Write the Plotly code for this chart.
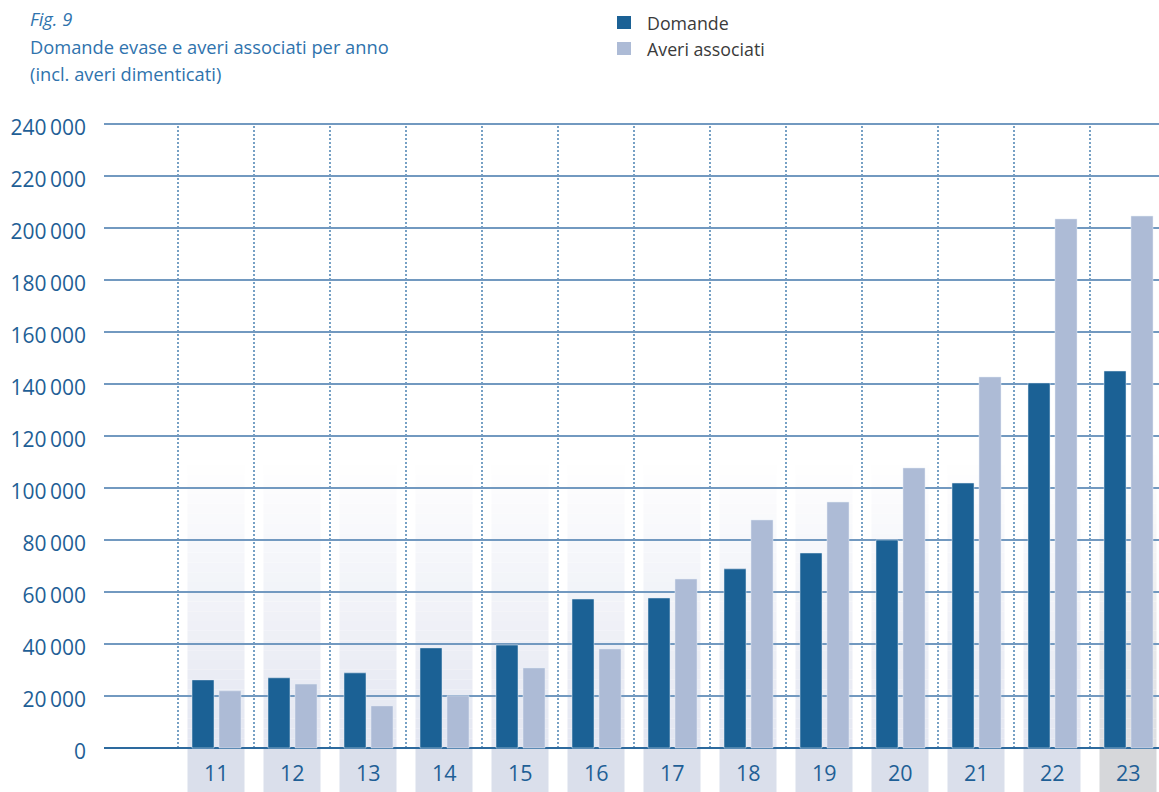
import plotly.graph_objects as go

# ---------------- data ----------------
years = ["11", "12", "13", "14", "15", "16", "17", "18", "19", "20", "21", "22", "23"]
year_pos = [11, 12, 13, 14, 15, 16, 17, 18, 19, 20, 21, 22, 23]
domande = [26200, 27000, 28900, 38500, 39600, 57300, 57700, 68900, 75000, 80000, 101900, 140400, 145000]
averi = [22000, 24600, 16200, 20100, 30800, 38100, 65000, 87700, 94600, 107700, 142700, 203500, 204600]
y_ticks = [0, 20000, 40000, 60000, 80000, 100000, 120000, 140000, 160000, 180000, 200000, 220000, 240000]
y_ticktext = ["0" if v == 0 else f"{v // 1000}\u2009000" for v in y_ticks]

title_fig = "Fig. 9"
title_l1 = "Domande evase e averi associati per anno"
title_l2 = "(incl. averi dimenticati)"
name_d = "Domande"
name_a = "Averi associati"

# ---------------- layout geometry ----------------
W, H = 1159, 792
L, R, T, B = 104, 1159, 110, 792
slot_px = 76.0
x0 = 11 - (216 - L) / slot_px
x1 = x0 + (R - L) / slot_px
upp = 240000 / (748 - 124)  # units per px
ymax = 240000 + (124 - T) * upp
ymin = -(B - 748) * upp

def pxx(p):
    return (p - L) / (R - L)

def pxy(p):
    return (B - p) / (B - T)

C_DOM = "#1b6195"
C_AV = "#adbbd6"
C_TXT = "#1f5f96"
C_TITLE = "#2f73ad"
FONT = "Open Sans"

bar_w = 22 / slot_px

fig = go.Figure()
fig.add_trace(go.Bar(x=year_pos, y=domande, name=name_d, marker_color=C_DOM,
                     width=bar_w, offset=-24 / slot_px, showlegend=False))
fig.add_trace(go.Bar(x=year_pos, y=averi, name=name_a, marker_color=C_AV,
                     width=bar_w, offset=3 / slot_px, showlegend=False))

shapes = []
# gradient column shading (stacked bands)
shade_top = (748 - 455) * upp
N = 30
for yv in year_pos:
    bottom_rgb = (220, 221, 224) if yv == 23 else (227, 230, 241)
    for i in range(N):
        ya = shade_top * i / N
        yb = shade_top * (i + 1) / N
        t = (i + 0.5) / N  # 0 bottom -> 1 top
        c = tuple(round(b + (255 - b) * t) for b in bottom_rgb)
        shapes.append(dict(type="rect", xref="x", yref="y", x0=yv - 0.375, x1=yv + 0.375,
                           y0=ya, y1=yb, fillcolor=f"rgb{c}", line_width=0, layer="below"))
    # label box under axis
    shapes.append(dict(type="rect", xref="x", yref="y", x0=yv - 0.375, x1=yv + 0.375,
                       y0=ymin, y1=0, fillcolor="#d6d7da" if yv == 23 else "#dadfeb",
                       line_width=0, layer="below"))
    # dotted separator
    shapes.append(dict(type="line", xref="x", yref="y", x0=yv - 0.5, x1=yv - 0.5,
                       y0=0, y1=240000, line=dict(color="#2f6fa6", width=1.3, dash="2px,2px"),
                       layer="below"))

# legend squares
shapes.append(dict(type="rect", xref="paper", yref="paper", x0=pxx(617), x1=pxx(631),
                   y0=pxy(29), y1=pxy(16), fillcolor=C_DOM, line_width=0))
shapes.append(dict(type="rect", xref="paper", yref="paper", x0=pxx(617), x1=pxx(631),
                   y0=pxy(55), y1=pxy(42), fillcolor=C_AV, line_width=0))

annotations = []
for yv, lab in zip(year_pos, years):
    annotations.append(dict(x=yv, y=-(772 - 748) * upp, xref="x", yref="y", text=lab,
                            showarrow=False, font=dict(family=FONT, size=21.5, color=C_TXT),
                            xanchor="center", yanchor="middle"))

annotations += [
    dict(x=pxx(645), y=pxy(23), xref="paper", yref="paper", text=name_d, showarrow=False,
         xanchor="left", yanchor="middle", font=dict(family=FONT, size=17.8, color="#3a3a3a")),
    dict(x=pxx(645), y=pxy(49), xref="paper", yref="paper", text=name_a, showarrow=False,
         xanchor="left", yanchor="middle", font=dict(family=FONT, size=17.8, color="#3a3a3a")),
    dict(x=pxx(28), y=pxy(19), xref="paper", yref="paper", text=f"<i>{title_fig}</i>", showarrow=False,
         xanchor="left", yanchor="middle", font=dict(family=FONT, size=18.3, color=C_TITLE)),
    dict(x=pxx(28), y=pxy(46), xref="paper", yref="paper", text=title_l1, showarrow=False,
         xanchor="left", yanchor="middle", font=dict(family=FONT, size=18.3, color=C_TITLE)),
    dict(x=pxx(28), y=pxy(73), xref="paper", yref="paper", text=title_l2, showarrow=False,
         xanchor="left", yanchor="middle", font=dict(family=FONT, size=18.3, color=C_TITLE)),
]

fig.update_layout(
    width=W, height=H, autosize=False,
    margin=dict(l=L, r=W - R, t=T, b=H - B, pad=0),
    paper_bgcolor="white", plot_bgcolor="white",
    barmode="overlay",
    shapes=shapes, annotations=annotations,
    showlegend=False,
    font=dict(family=FONT, color=C_TXT),
)
fig.update_xaxes(range=[x0, x1], showgrid=False, zeroline=False, showticklabels=False,
                 showline=False, ticks="", fixedrange=True)
fig.update_yaxes(range=[ymin, ymax], tickvals=y_ticks, ticktext=y_ticktext,
                 showgrid=True, gridcolor="#7299c0", gridwidth=2,
                 zeroline=True, zerolinecolor="#2d6a9e", zerolinewidth=2,
                 showline=False, ticks="", ticklabelstandoff=17, ticklabelshift=4,
                 tickfont=dict(family=FONT, size=21, color=C_TXT), fixedrange=True)

fig.write_html("out.html")
